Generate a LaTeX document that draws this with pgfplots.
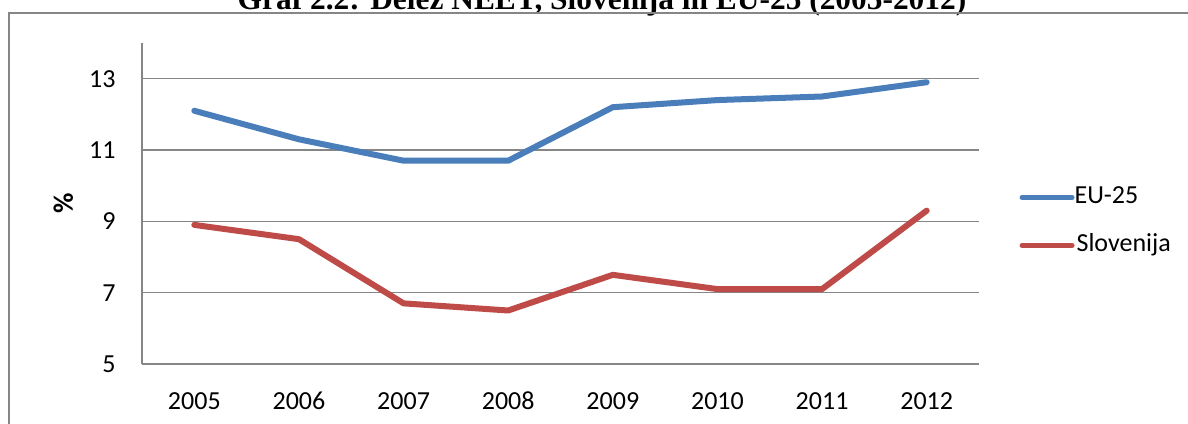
\documentclass[border=0pt]{standalone}
\usepackage{pgfplots}
\pgfplotsset{compat=1.18}
\usepackage{fontspec}
\setmainfont{Carlito}
\newfontfamily\titlefont{Liberation Serif}
\definecolor{euBlue}{HTML}{4A7EBB}
\definecolor{slRed}{HTML}{BE4B48}
\definecolor{gridGray}{HTML}{868686}
\begin{document}
\begin{tikzpicture}
\begin{axis}[
  at={(71pt,29.5pt)}, anchor=south west,
  scale only axis, width=418.5pt, height=160.5pt,
  xmin=-0.5, xmax=7.5, ymin=5, ymax=14,
  xtick={0,1,2,3,4,5,6,7},
  xticklabels={2005,2006,2007,2008,2009,2010,2011,2012},
  ytick={5,7,9,11,13},
  ymajorgrids, grid style={gridGray, line width=0.75pt},
  axis lines=left,
  axis line style={-, draw=gridGray, line width=0.75pt},
  major tick length=0pt,
  /pgf/number format/assume math mode=true,
  ticklabel style={font=\fontsize{13}{15}\selectfont, inner sep=0pt},
  yticklabel style={anchor=east, xshift=-13pt},
  xticklabel style={anchor=north, yshift=-14pt, text height=8.5pt, text depth=0pt},
  ylabel={\textbf{\%}},
  every axis y label/.style={at={(axis description cs:-0.094,0.5)}, rotate=90, anchor=center, font=\fontsize{14}{16}\selectfont},
  legend style={at={(axis description cs:1.048,0.444)}, anchor=west, draw=none, fill=none, inner sep=0pt,
    font=\fontsize{13}{15}\selectfont, row sep=12pt,
    nodes={inner sep=0pt, text height=9pt, text depth=3pt, anchor=west}},
  legend cell align=left,
  legend image code/.code={\draw[#1, line width=2.5pt, line cap=round] (1pt,0pt) -- (26pt,0pt);},
  clip=false,
]
\addplot[euBlue, line width=3pt, line join=round, line cap=round] coordinates {
  (0,12.1) (1,11.3) (2,10.7) (3,10.7) (4,12.2) (5,12.4) (6,12.5) (7,12.9)};
\addlegendentry{EU-25}
\addplot[slRed, line width=3pt, line join=round, line cap=round] coordinates {
  (0,8.9) (1,8.5) (2,6.7) (3,6.5) (4,7.5) (5,7.1) (6,7.1) (7,9.3)};
\addlegendentry{\hspace{1pt}Slovenija}
\end{axis}
\node[anchor=base, font=\titlefont\bfseries\fontsize{15.7}{18}\selectfont] at (301pt,206.5pt) {Graf 2.2: Delež NEET, Slovenija in EU-25 (2005-2012)};
\draw[gridGray, line width=1pt] (4.5pt,-10pt) -- (4.5pt,205pt) -- (610pt,205pt);
\pgfresetboundingbox
\useasboundingbox (0,0) rectangle (594pt,211.5pt);
\end{tikzpicture}
\end{document}
